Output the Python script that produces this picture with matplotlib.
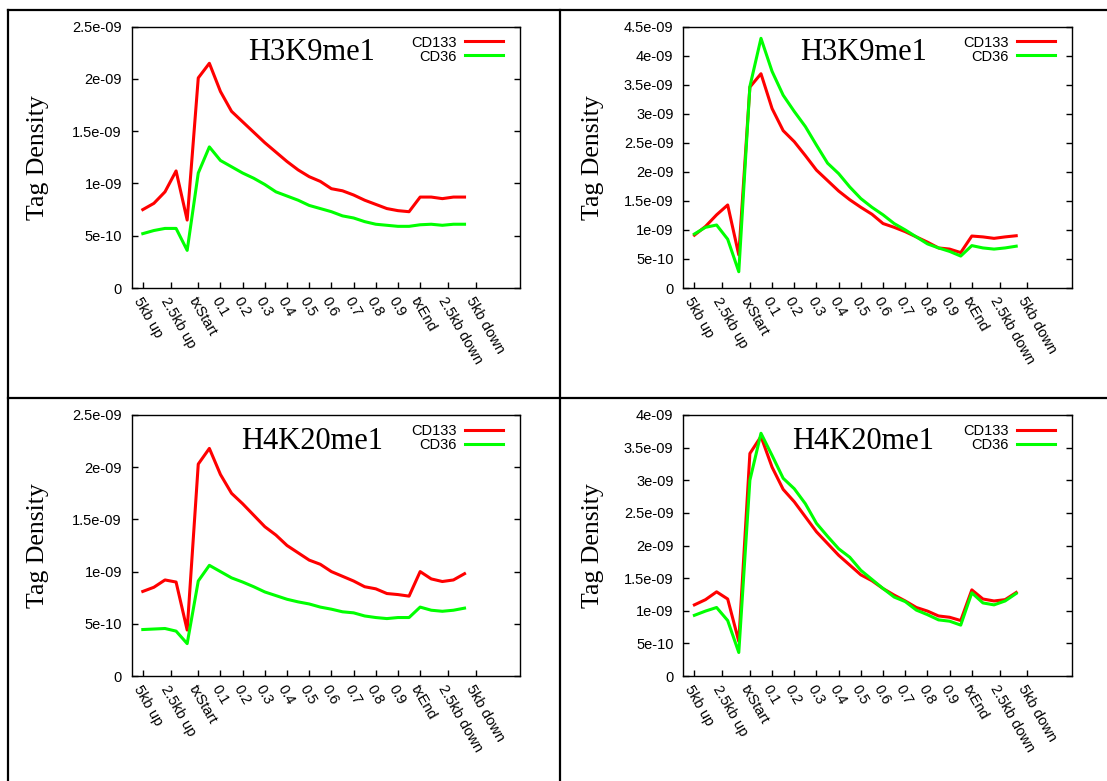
import numpy as np
import matplotlib
matplotlib.use("Agg")
import matplotlib.pyplot as plt
from matplotlib.lines import Line2D
from matplotlib.ticker import FuncFormatter

# --- data (units of tag density) ---
tick_pos = [0, 2.5, 5, 7, 9, 11, 13, 15, 17, 19, 21, 23, 25, 27.5, 30]
tick_labels = ["5kb up", "2.5kb up", "txStart", "0.1", "0.2", "0.3", "0.4", "0.5",
               "0.6", "0.7", "0.8", "0.9", "txEnd", "2.5kb down", "5kb down"]
bins = np.arange(30)

h3k9_a_cd133 = [0.75, 0.81, 0.92, 1.12, 0.65, 2.01, 2.15, 1.88, 1.69, 1.59, 1.49, 1.39, 1.30, 1.21, 1.13,
                1.065, 1.02, 0.95, 0.93, 0.89, 0.84, 0.80, 0.76, 0.74, 0.73, 0.87, 0.87, 0.855, 0.87, 0.87]
h3k9_a_cd36 = [0.52, 0.55, 0.57, 0.57, 0.36, 1.10, 1.35, 1.22, 1.16, 1.10, 1.05, 0.99, 0.92, 0.88, 0.84,
               0.79, 0.76, 0.73, 0.69, 0.67, 0.635, 0.61, 0.60, 0.59, 0.59, 0.605, 0.61, 0.60, 0.61, 0.61]

h3k9_b_cd133 = [0.91, 1.06, 1.26, 1.43, 0.57, 3.46, 3.69, 3.09, 2.71, 2.52, 2.28, 2.03, 1.85, 1.67, 1.52,
                1.39, 1.27, 1.11, 1.045, 0.97, 0.88, 0.79, 0.69, 0.67, 0.61, 0.895, 0.88, 0.855, 0.88, 0.90]
h3k9_b_cd36 = [0.93, 1.045, 1.085, 0.84, 0.28, 3.47, 4.30, 3.73, 3.32, 3.04, 2.78, 2.46, 2.15, 1.97, 1.74,
               1.54, 1.39, 1.26, 1.11, 1.00, 0.88, 0.76, 0.69, 0.63, 0.55, 0.73, 0.69, 0.67, 0.69, 0.72]

h4k20_a_cd133 = [0.81, 0.85, 0.92, 0.90, 0.44, 2.03, 2.18, 1.93, 1.75, 1.65, 1.54, 1.43, 1.35, 1.25, 1.18,
                 1.11, 1.07, 1.00, 0.955, 0.91, 0.855, 0.835, 0.79, 0.78, 0.765, 1.00, 0.93, 0.905, 0.92, 0.98]
h4k20_a_cd36 = [0.445, 0.45, 0.455, 0.43, 0.31, 0.91, 1.06, 1.00, 0.94, 0.90, 0.855, 0.805, 0.77, 0.735, 0.71,
                0.69, 0.66, 0.64, 0.615, 0.605, 0.575, 0.56, 0.55, 0.56, 0.56, 0.66, 0.63, 0.62, 0.63, 0.65]

h4k20_b_cd133 = [1.09, 1.17, 1.29, 1.18, 0.53, 3.41, 3.67, 3.20, 2.86, 2.67, 2.44, 2.21, 2.03, 1.85, 1.70,
                 1.55, 1.46, 1.34, 1.24, 1.15, 1.05, 0.995, 0.92, 0.90, 0.85, 1.32, 1.18, 1.15, 1.17, 1.28]
h4k20_b_cd36 = [0.93, 0.995, 1.05, 0.85, 0.36, 3.00, 3.72, 3.38, 3.03, 2.87, 2.64, 2.34, 2.14, 1.95, 1.82,
                1.62, 1.48, 1.34, 1.21, 1.14, 1.01, 0.94, 0.86, 0.84, 0.78, 1.275, 1.12, 1.09, 1.15, 1.265]

panels = [
    ("H3K9me1", h3k9_a_cd133, h3k9_a_cd36, 2.5e-9),
    ("H3K9me1", h3k9_b_cd133, h3k9_b_cd36, 4.5e-9),
    ("H4K20me1", h4k20_a_cd133, h4k20_a_cd36, 2.5e-9),
    ("H4K20me1", h4k20_b_cd133, h4k20_b_cd36, 4.0e-9),
]

W, H = 1107, 781
fig = plt.figure(figsize=(W / 100, H / 100), dpi=100)

sans = "Liberation Sans"
serif = "Liberation Serif"

# axes boxes in pixels: left, top, right, bottom
boxes = [(131.7, 26.7, 520, 288), (683.3, 26.7, 1071.7, 288),
         (131.7, 415, 520, 676), (683.3, 415, 1071.7, 676)]
ylabel_x = [-0.212, -0.203, -0.212, -0.203]

for (title, red, green, ymax), (l, t, r, b), ylx in zip(panels, boxes, ylabel_x):
    ax = fig.add_axes([l / W, 1 - b / H, (r - l) / W, (b - t) / H])
    ax.plot(bins, np.array(red) * 1e-9, color="#ff0000", lw=2.2, label="CD133")
    ax.plot(bins, np.array(green) * 1e-9, color="#00ff00", lw=2.2, label="CD36")
    ax.set_xlim(-1, 34)
    ax.set_ylim(0, ymax)
    ax.set_yticks(np.arange(0, ymax + 1e-12, 5e-10))
    ax.yaxis.set_major_formatter(FuncFormatter(lambda v, p: "%g" % v))
    ax.set_xticks(tick_pos)
    ax.set_xticklabels(tick_labels, rotation=-60, ha="left", va="top",
                       rotation_mode="anchor", fontfamily=sans, fontsize=10.5)
    for lab in ax.get_yticklabels():
        lab.set_fontfamily(sans)
        lab.set_fontsize(10.5)
    ax.tick_params(axis="y", direction="in", length=4, width=1, pad=7, right=True)
    ax.tick_params(axis="x", direction="in", length=4, width=1, pad=5)
    for s in ax.spines.values():
        s.set_linewidth(1)
    ax.set_ylabel("Tag Density", fontfamily=serif, fontsize=18.5)
    ax.yaxis.set_label_coords(ylx, 0.5)
    ax.text(0.464, 0.90, title, transform=ax.transAxes, ha="center", va="center",
            fontfamily=serif, fontsize=22)
    ax.legend(loc="upper right", bbox_to_anchor=(0.957, 0.966), frameon=False,
              markerfirst=False, handlelength=2.6, handletextpad=0.6,
              labelspacing=0.0, borderpad=0, borderaxespad=0,
              prop={"family": sans, "size": 10.5})

# table grid lines around the four panels
lw = 1.6
fig.add_artist(Line2D([7.5 / W, 1], [1 - 9.5 / H] * 2, color="black", lw=lw))
fig.add_artist(Line2D([7.5 / W, 1], [1 - 397.8 / H] * 2, color="black", lw=lw))
fig.add_artist(Line2D([7.5 / W] * 2, [0, 1 - 9.5 / H], color="black", lw=lw))
fig.add_artist(Line2D([559.5 / W] * 2, [0, 1 - 9.5 / H], color="black", lw=lw))

fig.savefig("out.png", dpi=100)
